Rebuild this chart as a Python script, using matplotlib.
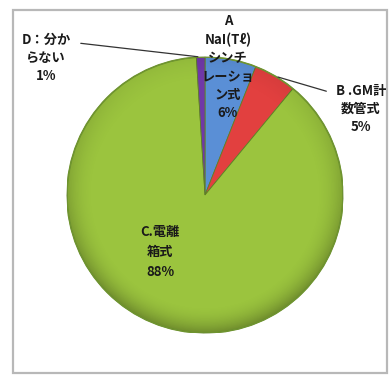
import matplotlib
matplotlib.use("Agg")
import matplotlib.pyplot as plt
from matplotlib.patches import Rectangle, Circle
import numpy as np

plt.rcParams['font.family'] = ['Noto Sans CJK JP', 'DejaVu Sans']

categories = ["A\nNaI(Tℓ)\nシンチ\nレーショ\nン式", "B .GM計\n数管式", "C.電離\n箱式", "D：分か\nらない"]
values = [6, 5, 88, 1]
pct_labels = ["6%", "5%", "88%", "1%"]
colors = ["#5a8fd6", "#e2403f", "#9bc43e", "#7038a8"]

W, H = 390, 376
fig = plt.figure(figsize=(W / 100, H / 100), dpi=100)

# chart-area frame
frame = Rectangle((13 / W, 1 - 373 / H), 374 / W, 363 / H, transform=fig.transFigure,
                  facecolor="white", edgecolor="#b8b8b8", linewidth=1.6, zorder=-5)
fig.patches.append(frame)

cx, cy, r = 205, 195, 138
ax = fig.add_axes([(cx - r) / W, 1 - (cy + r) / H, 2 * r / W, 2 * r / H])
ax.set_zorder(2)
ax.patch.set_visible(False)

wedges, _ = ax.pie(values, colors=colors, startangle=90, counterclock=False, radius=1,
                   wedgeprops=dict(edgecolor="#5f7f25", linewidth=0.6))
ax.set_aspect("auto")
ax.set_xlim(-1, 1)
ax.set_ylim(-1, 1)
ax.axis("off")

# soft rim shading (darker toward the edge, like the original's bevel)
g = np.linspace(-1, 1, 300)
X, Y = np.meshgrid(g, g)
R = np.sqrt(X ** 2 + Y ** 2)
shade = np.zeros((300, 300, 4))
alpha = np.clip((R - 0.80) / 0.20, 0, 1) ** 2 * 0.28
alpha *= np.clip(0.6 - 0.5 * Y, 0.2, 1.0)
shade[..., 3] = alpha
im = ax.imshow(shade, extent=(-1, 1, -1, 1), origin="lower", zorder=3, aspect="auto")
clip = Circle((0, 0), 1.0, transform=ax.transData)
im.set_clip_path(clip)
ax.add_patch(Circle((0, 0), 1.0, fill=False, edgecolor="#6f9430", linewidth=1.2, zorder=4))

def px(x, y):
    return ((x - cx) / r, (cy - y) / r)

txt = dict(fontsize=9.5, fontweight="bold", color="#1a1a1a", ha="center", va="center",
           linespacing=1.4, zorder=6)

def edge_point(i, frac=1.0):
    w = wedges[i]
    ang = np.deg2rad((w.theta1 + w.theta2) / 2)
    return frac * np.cos(ang), frac * np.sin(ang)

# A label (inside / above the slice)
ax.text(*px(228, 67), categories[0] + "\n" + pct_labels[0], **txt)
# B label with leader line
ax.text(*px(361, 109), categories[1] + "\n" + pct_labels[1], **txt)
ax.annotate("", xy=edge_point(1), xytext=px(329, 92),
            arrowprops=dict(arrowstyle="-", color="#333333", lw=0.9), zorder=6)
# C label inside
ax.text(*px(160, 252), categories[2] + "\n" + pct_labels[2],
        **{**txt, "linespacing": 1.55})
# D label with leader line
ax.text(*px(46, 58), categories[3] + "\n" + pct_labels[3], **txt)
ax.annotate("", xy=edge_point(3), xytext=px(78, 43),
            arrowprops=dict(arrowstyle="-", color="#333333", lw=0.9), zorder=6)

for t in ax.texts:
    t.set_clip_on(False)

fig.savefig("out.png", dpi=100)
